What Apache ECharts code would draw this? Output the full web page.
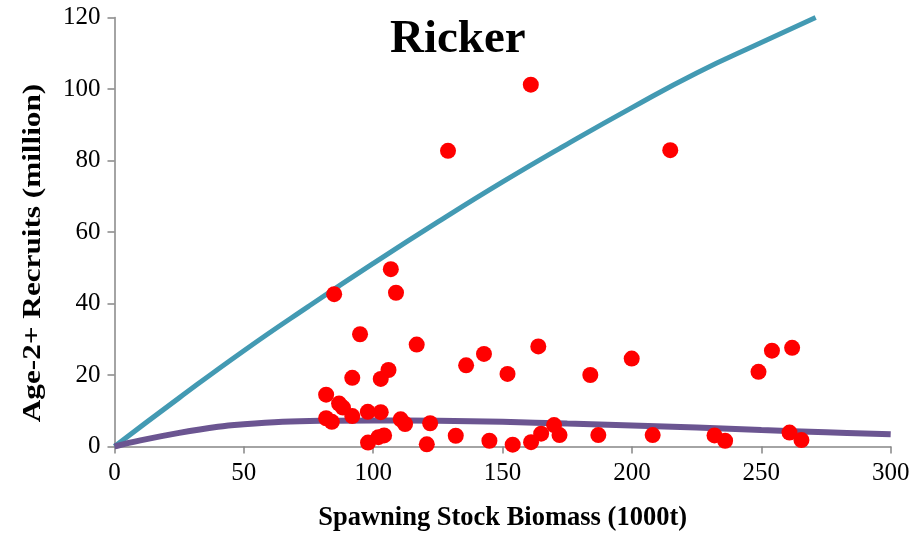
<!DOCTYPE html>
<html>
<head>
<meta charset="utf-8">
<script src="https://cdn.jsdelivr.net/npm/echarts@6/dist/echarts.min.js"></script>
<style>
  html, body { margin: 0; padding: 0; background: #fff; }
  #chart { width: 917px; height: 533px; }
</style>
</head>
<body>
<div id="chart"></div>
<script>
// Observed recruitment: spawning stock biomass (1000t) and age-2+ recruits (million)
const ssb = [84.9, 94.9, 91.9, 81.8, 86.8, 88.3, 81.8, 84.0, 91.9, 97.9,
             102.9, 110.6, 112.3, 122.0, 98.0, 102.0, 104.2, 120.7, 106.8, 108.8,
             116.8, 102.9, 105.9, 135.9, 142.8, 151.9, 163.8, 183.9, 199.9, 131.9,
             144.9, 153.9, 161.0, 164.9, 169.9, 172.0, 187.0, 208.0, 231.9, 236.0,
             248.9, 254.1, 261.9, 260.9, 265.5, 160.9, 128.9, 214.8];
const recruits = [42.6, 31.4, 19.2, 14.5, 12.0, 10.9, 7.9, 6.9, 8.5, 9.7,
                  9.6, 7.6, 6.3, 6.5, 1.1, 2.6, 3.1, 0.6, 49.6, 43.0,
                  28.5, 18.9, 21.4, 22.7, 25.9, 20.3, 28.0, 20.0, 24.6, 3.0,
                  1.6, 0.5, 1.2, 3.6, 6.0, 3.2, 3.2, 3.2, 3.1, 1.6,
                  20.9, 26.8, 27.6, 3.9, 1.8, 101.2, 82.7, 82.9];

// Upper Ricker curve, sampled along SSB
const upperX = [0, 25, 50, 75, 100, 125, 150, 175, 200, 225, 250, 271];
const upperY = [0, 13.6, 26.8, 39.2, 51.2, 62.8, 74.0, 84.6, 94.8, 104.5, 113.0, 120.0];

// Lower Ricker curve, sampled along SSB
const lowerX = [0, 10, 25, 40, 50, 65, 80, 100, 125, 150, 175, 200, 225, 250, 275, 300];
const lowerY = [0, 1.7, 3.8, 5.5, 6.2, 6.9, 7.2, 7.3, 7.2, 6.9, 6.4, 5.9, 5.3, 4.6, 4.0, 3.4];

const xTicks = { min: 0, max: 300, interval: 50 };
const yTicks = { min: 0, max: 120, interval: 20 };

const zip = (a, b) => a.map((v, i) => [v, b[i]]);

const chart = echarts.init(document.getElementById('chart'), null, { renderer: 'canvas' });
const serif = '"Liberation Serif", "Times New Roman", serif';
const axisGray = '#868686';

chart.setOption({
  animation: false,
  backgroundColor: '#ffffff',
  grid: { left: 114.5, right: 26.3, top: 17.5, bottom: 86.5, containLabel: false, outerBoundsMode: 'none' },
  xAxis: {
    type: 'value',
    min: xTicks.min, max: xTicks.max, interval: xTicks.interval,
    name: 'Spawning Stock Biomass (1000t)',
    nameLocation: 'middle',
    nameGap: 58,
    nameTextStyle: { fontFamily: serif, fontWeight: 'bold', fontSize: 26.5, color: '#000' },
    axisLine: { lineStyle: { color: axisGray, width: 1.5 } },
    axisTick: { show: true, length: 7, inside: false, lineStyle: { color: axisGray, width: 1.5 } },
    axisLabel: { fontFamily: serif, fontSize: 25, color: '#000', margin: 14 },
    splitLine: { show: false }
  },
  yAxis: {
    type: 'value',
    min: yTicks.min, max: yTicks.max, interval: yTicks.interval,
    axisLine: { show: true, lineStyle: { color: axisGray, width: 1.5 } },
    axisTick: { show: true, length: 7, inside: false, lineStyle: { color: axisGray, width: 1.5 } },
    axisLabel: { fontFamily: serif, fontSize: 25, color: '#000', margin: 14 },
    splitLine: { show: false }
  },
  graphic: [
    {
      type: 'text',
      left: 460 - 70,
      top: 16,
      style: { text: 'Ricker', fontFamily: serif, fontWeight: 'bold', fontSize: 47, fill: '#000' }
    },
    {
      type: 'text',
      x: 33,
      y: 253,
      rotation: Math.PI / 2,
      scaleX: 1.2,
      style: {
        text: 'Age-2+ Recruits (million)',
        fontFamily: serif, fontWeight: 'bold', fontSize: 26, fill: '#000',
        align: 'center', verticalAlign: 'middle'
      }
    }
  ],
  series: [
    {
      name: 'upper',
      type: 'line',
      data: zip(upperX, upperY),
      smooth: true,
      showSymbol: false,
      lineStyle: { color: '#439AB3', width: 5 },
      z: 2
    },
    {
      name: 'lower',
      type: 'line',
      data: zip(lowerX, lowerY),
      smooth: 0.4,
      showSymbol: false,
      lineStyle: { color: '#6B5591', width: 6 },
      z: 2
    },
    {
      name: 'observed',
      type: 'scatter',
      data: zip(ssb, recruits),
      symbol: 'circle',
      symbolSize: 16,
      itemStyle: { color: '#FF0000', opacity: 1 },
      z: 3
    }
  ]
});
</script>
</body>
</html>
